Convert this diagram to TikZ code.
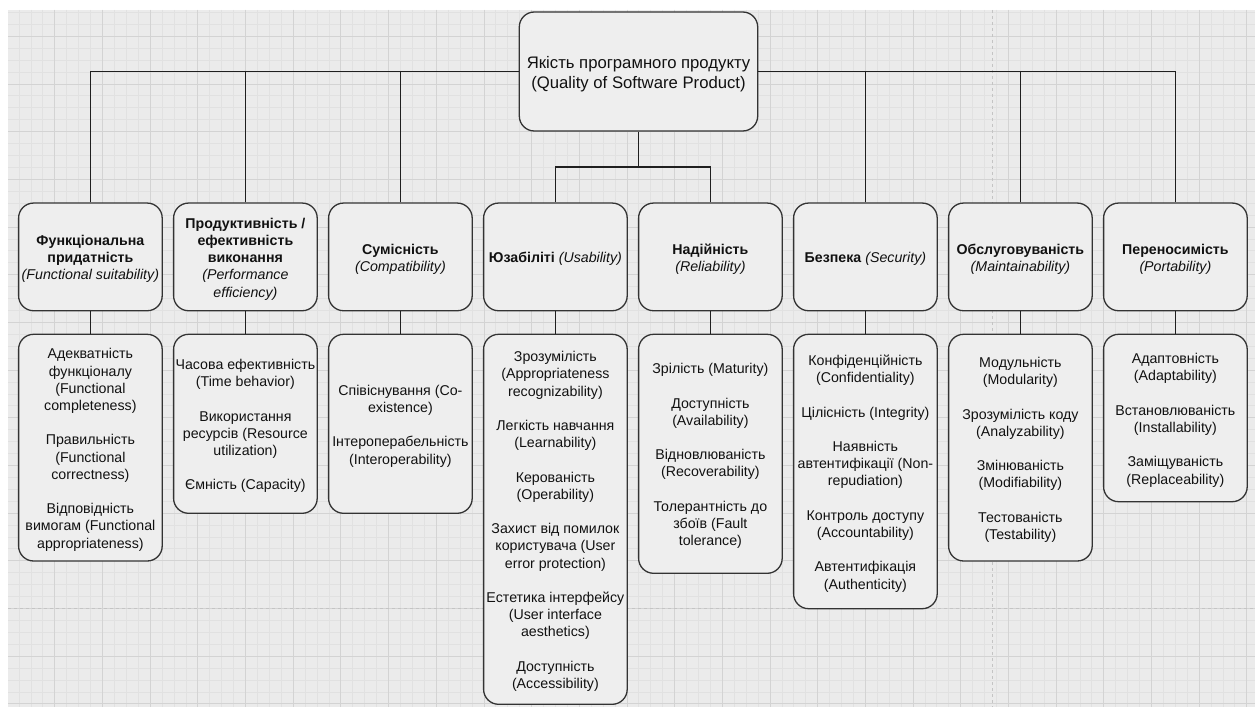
\documentclass[tikz,border=0pt]{standalone}
\usepackage{fontspec}
\setmainfont{Liberation Sans}
\definecolor{bgc}{HTML}{EBEBEB}
\definecolor{minorc}{HTML}{E1E1E1}
\definecolor{majorc}{HTML}{D3D3D3}
\definecolor{pagec}{HTML}{C4C4C4}
\definecolor{boxfill}{HTML}{EEEEEE}
\definecolor{boxdraw}{HTML}{333333}
\definecolor{txt}{HTML}{111111}
\newcommand{\gapline}{\\[17.2pt]}
\newcommand{\ts}{\rule{0pt}{15pt}}
\newcommand{\bs}{\rule[-3.4pt]{0pt}{0pt}}
\newcommand{\rts}{\rule{0pt}{17.6pt}}
\newcommand{\rbs}{\rule[-4pt]{0pt}{0pt}}
\tikzset{
  box/.style={draw=boxdraw, fill=boxfill, line width=1.3pt, rounded corners=15pt,
    minimum width=143.6pt, inner sep=0pt, align=center, text=txt,
    font=\fontsize{14.2}{17.2}\selectfont},
  rootbox/.style={box, minimum width=238.4pt, minimum height=119pt,
    font=\fontsize{16.7}{20}\selectfont},
  conn/.style={draw=black!88, line width=1.2pt},
  minorline/.style={draw=minorc, line width=0.8pt},
  majorline/.style={draw=majorc, line width=0.8pt},
  pageline/.style={draw=pagec, line width=1pt, dash pattern=on 3pt off 3pt},
}
\begin{document}
\begin{tikzpicture}[x=1pt, y=-1pt]
\useasboundingbox (0,0) rectangle (1258,711);
\fill[white] (0,0) rectangle (1258,711);
\fill[bgc] (8,10) rectangle (1255,707);
\begin{scope}
\clip (8,10) rectangle (1255,707);
\foreach \i in {1,...,104} {\draw[minorline] ({7.1+11.92*\i},10) -- ({7.1+11.92*\i},707);}
\foreach \i in {0,...,58} {\draw[minorline] (8,{12.46+11.92*\i}) -- (1255,{12.46+11.92*\i});}
\foreach \i in {4,8,...,104} {\draw[majorline] ({7.1+11.92*\i},10) -- ({7.1+11.92*\i},707);}
\foreach \i in {2,6,...,58} {\draw[majorline] (8,{12.46+11.92*\i}) -- (1255,{12.46+11.92*\i});}
\draw[pageline] (8,608.5) -- (1255,608.5);
\draw[pageline] (992,10) -- (992,707);
\end{scope}

% root
\node[rootbox] (root) at (638.5,71.5) {\rts Якість програмного продукту\\(Quality of Software Product)\rbs};

% level 2
\node[box, minimum height=107.7pt] (b1) at (90.4,256.9) {\ts\textbf{Функціональна}\\\textbf{придатність}\\\textit{(Functional suitability)}\bs};
\node[box, minimum height=107.7pt] (b2) at (245.4,256.9) {\ts\textbf{Продуктивність /}\\\textbf{ефективність}\\\textbf{виконання}\\\textit{(Performance}\\\textit{efficiency)}\bs};
\node[box, minimum height=107.7pt] (b3) at (400.4,256.9) {\ts\textbf{Сумісність}\\\textit{(Compatibility)}\bs};
\node[box, minimum height=107.7pt] (b4) at (555.4,256.9) {\ts\textbf{Юзабіліті} \textit{(Usability)}\bs};
\node[box, minimum height=107.7pt] (b5) at (710.4,256.9) {\ts\textbf{Надійність}\\\textit{(Reliability)}\bs};
\node[box, minimum height=107.7pt] (b6) at (865.4,256.9) {\ts\textbf{Безпека} \textit{(Security)}\bs};
\node[box, minimum height=107.7pt] (b7) at (1020.4,256.9) {\ts\textbf{Обслуговуваність}\\\textit{(Maintainability)}\bs};
\node[box, minimum height=107.7pt] (b8) at (1175.4,256.9) {\ts\textbf{Переносимість}\\\textit{(Portability)}\bs};

% level 3
\node[box, minimum height=226.7pt] (c1) at (90.4,447.65) {\ts Адекватність\\функціоналу\\(Functional\\completeness)\gapline Правильність\\(Functional\\correctness)\gapline Відповідність\\вимогам (Functional\\appropriateness)\bs};
\node[box, minimum height=179pt] (c2) at (245.4,423.8) {\ts Часова ефективність\\(Time behavior)\gapline Використання\\ресурсів (Resource\\utilization)\gapline Ємність (Capacity)\bs};
\node[box, minimum height=179pt] (c3) at (400.4,423.8) {\ts Співіснування (Co-\\existence)\gapline Інтероперабельність\\(Interoperability)\bs};
\node[box, minimum height=370pt] (c4) at (555.4,519.3) {\ts Зрозумілість\\(Appropriateness\\recognizability)\gapline Легкість навчання\\(Learnability)\gapline Керованість\\(Operability)\gapline Захист від помилок\\користувача (User\\error protection)\gapline Естетика інтерфейсу\\(User interface\\aesthetics)\gapline Доступність\\(Accessibility)\bs};
\node[box, minimum height=239pt] (c5) at (710.4,453.8) {\ts Зрілість (Maturity)\gapline Доступність\\(Availability)\gapline Відновлюваність\\(Recoverability)\gapline Толерантність до\\збоїв (Fault\\tolerance)\bs};
\node[box, minimum height=274.4pt] (c6) at (865.4,471.5) {\ts Конфіденційність\\(Confidentiality)\gapline Цілісність (Integrity)\gapline Наявність\\автентифікації (Non-\\repudiation)\gapline Контроль доступу\\(Accountability)\gapline Автентифікація\\(Authenticity)\bs};
\node[box, minimum height=226.7pt] (c7) at (1020.4,447.65) {\ts Модульність\\(Modularity)\gapline Зрозумілість коду\\(Analyzability)\gapline Змінюваність\\(Modifiability)\gapline Тестованість\\(Testability)\bs};
\node[box, minimum height=167.4pt] (c8) at (1175.4,418) {\ts Адаптовність\\(Adaptability)\gapline Встановлюваність\\(Installability)\gapline Заміщуваність\\(Replaceability)\bs};

% connectors
\draw[conn] (root.west) -| (b1.north);
\draw[conn] (root.west) -| (b2.north);
\draw[conn] (root.west) -| (b3.north);
\draw[conn] (root.east) -| (b6.north);
\draw[conn] (root.east) -| (b7.north);
\draw[conn] (root.east) -| (b8.north);
\coordinate (mid) at (638.5,167);
\draw[conn] (root.south) -- (mid);
\draw[conn] (mid) -| (b4.north);
\draw[conn] (mid) -| (b5.north);
\foreach \k in {1,...,8} {\draw[conn] (b\k.south) -- (c\k.north);}
\end{tikzpicture}
\end{document}
